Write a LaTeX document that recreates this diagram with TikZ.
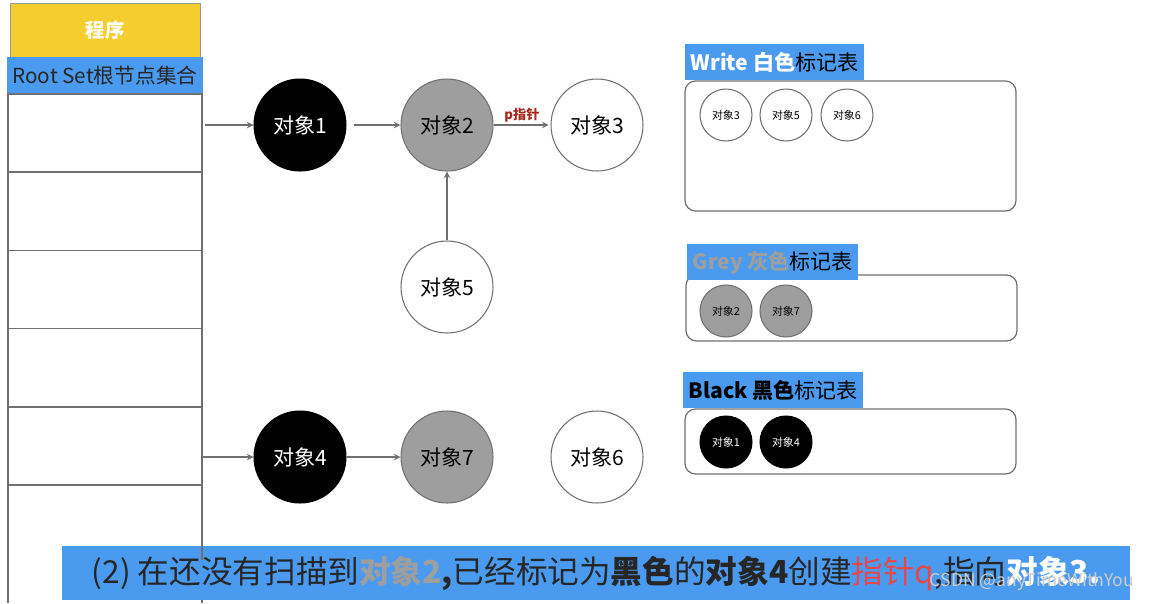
\documentclass[tikz,border=0pt]{standalone}
\usepackage{fontspec}
\setmainfont{Noto Sans CJK SC}
\usetikzlibrary{positioning}
\definecolor{keyblue}{HTML}{4A9BEF}
\definecolor{progyellow}{HTML}{F4CD2F}
\definecolor{objgrey}{HTML}{9E9E9E}
\definecolor{linegrey}{HTML}{707070}
\definecolor{ptrred}{HTML}{A8281E}
\definecolor{qred}{HTML}{E8474A}
\begin{document}
\begin{tikzpicture}[x=0.02cm, y=-0.02cm, >=stealth,
		obj/.style={circle, minimum size=1.84cm, inner sep=0pt, draw=linegrey, line width=0.6pt, font=\fontsize{12}{14}\selectfont},
		blackobj/.style={obj, fill=black, draw=black, text=white},
		greyobj/.style={obj, fill=objgrey},
		whiteobj/.style={obj, fill=white},
		mini/.style={circle, minimum size=1.04cm, inner sep=0pt, draw=linegrey, line width=0.6pt, font=\fontsize{6.2}{7}\selectfont},
		ptr/.style={->, draw=linegrey, line width=0.7pt},
		header/.style={fill=keyblue, anchor=north west, inner xsep=3pt, minimum height=0.72cm, font=\fontsize{12}{14}\selectfont},
		marktable/.style={draw=linegrey, line width=0.7pt, rounded corners=6pt}]
	\useasboundingbox (0,0) rectangle (1156,603);
	% program and root set
	\node[fill=progyellow, draw=linegrey!70, minimum width=3.8cm, minimum height=1.08cm, text=white, font=\fontsize{11}{13}\selectfont\bfseries] (prog) at (105,30) {程序};
	\node[fill=keyblue, minimum width=3.88cm, minimum height=0.74cm, text=black!85, font=\fontsize{11.8}{13}\selectfont] (rootset) at (105,75.5) {Root Set根节点集合};
	\draw[linegrey, line width=0.7pt] (8,603) -- (8,94) -- (202,94) -- (202,603);
	\foreach \k in {1,...,5}
		\draw[linegrey, line width=0.9pt] (8,{94+78.2*\k}) -- (202,{94+78.2*\k});
	\coordinate (root1) at (205,125);
	\coordinate (root5) at (202,457);
	% objects
	\node[blackobj] (o1) at (300,125) {对象1};
	\node[greyobj] (o2) at (447,125) {对象2};
	\node[whiteobj] (o3) at (597,125) {对象3};
	\node[whiteobj] (o5) at (447,287) {对象5};
	\node[blackobj] (o4) at (300,457) {对象4};
	\node[greyobj] (o7) at (447,457) {对象7};
	\node[whiteobj] (o6) at (597,457) {对象6};
	\draw[ptr] (root1) -- (o1);
	\draw[ptr] (root5) -- (o4);
	\draw[ptr, shorten <=4pt] (o1) -- (o2);
	\draw[ptr, shorten >=1pt] (o2) -- node[above, inner sep=1pt, text=ptrred, font=\fontsize{7.5}{9}\selectfont\bfseries] (plabel) {p指针} (o3);
	\draw[ptr] (o5) -- (o2);
	\draw[ptr] (o4) -- (o7);
	% mark tables
	\draw[marktable] (685,81) rectangle (1016,211);
	\draw[marktable] (686,275) rectangle (1017,341);
	\draw[marktable] (685,409) rectangle (1016,474);
	\node[header] (whitehd) at (685,44) {\textbf{\color{white}Write 白色}标记表};
	\node[header] (greyhd) at (687,244) {\textbf{\color{objgrey}Grey 灰色}标记表};
	\node[header] (blackhd) at (683,372) {\textbf{Black 黑色}标记表};
	\node[mini, fill=white] (w3) at (726,115) {对象3};
	\node[mini, fill=white] (w5) at (786,115) {对象5};
	\node[mini, fill=white] (w6) at (847,115) {对象6};
	\node[mini, fill=objgrey] (g2) at (726,311) {对象2};
	\node[mini, fill=objgrey] (g7) at (786,311) {对象7};
	\node[mini, fill=black, draw=black, text=white] (b1) at (726,442) {对象1};
	\node[mini, fill=black, draw=black, text=white] (b4) at (786,442) {对象4};
	% caption
	\node[fill=keyblue, minimum width=21.36cm, minimum height=1.08cm, font=\fontsize{18}{21}\selectfont, text=black!85] (caption) at (596,573)
		{(2) 在还没有扫描到\textbf{\color{objgrey}对象2}\textbf{,}已经标记为\textbf{黑色}的\textbf{对象4}创建{\color{qred}指针q},指向\textbf{\color{white}对象3.}};
	\draw[linegrey, line width=0.7pt] (202,546) -- (202,560);
	\node[text=white!80!black, font=\fontsize{10}{12}\selectfont] (mark) at (1032,582) {CSDN @anyTimeWithYou};
\end{tikzpicture}
\end{document}
